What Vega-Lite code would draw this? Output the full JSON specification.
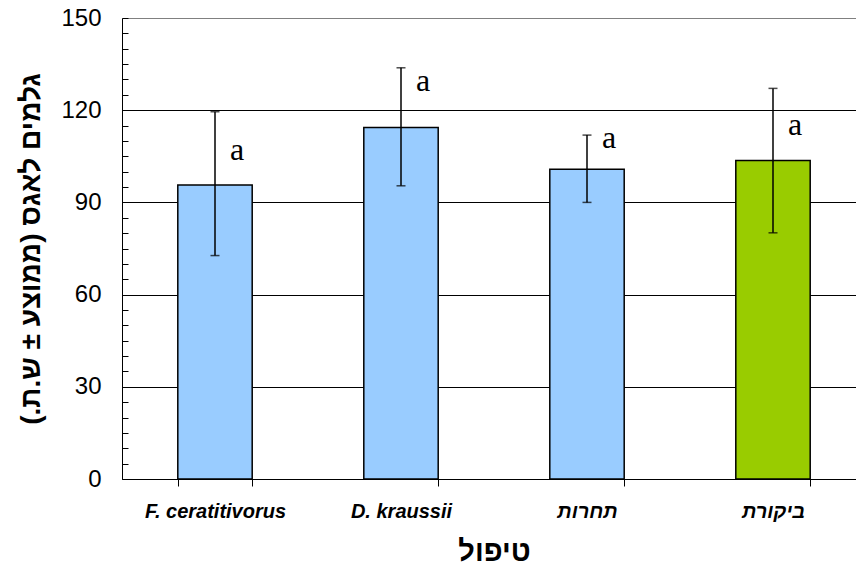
{
  "$schema": "https://vega.github.io/schema/vega-lite/v6.json",
  "autosize": "none",
  "width": 734,
  "height": 461,
  "padding": {"left": 122, "top": 18, "right": 0, "bottom": 89},
  "background": "white",
  "config": {
    "view": {"stroke": null},
    "font": "Liberation Sans",
    "axisY": {
      "titleFont": "Liberation Sans",
      "titleFontSize": 28,
      "titleFontWeight": "bold",
      "titleColor": "black",
      "titlePadding": 15,
      "labelOverlap": false,
      "labelFont": "Liberation Sans",
      "labelFontSize": 24,
      "labelColor": "black",
      "labelPadding": 27,
      "tickSize": -6,
      "tickColor": "black",
      "domainColor": "black",
      "grid": true,
      "gridWidth": 1
    }
  },
  "data": {
    "values": [
      {"treatment": "F. ceratitivorus", "mean": 95.7, "lo": 72.7, "hi": 119.5, "sig": "a", "sig_y": 103.8, "group": "treat"},
      {"treatment": "D. kraussii", "mean": 114.4, "lo": 95.4, "hi": 133.8, "sig": "a", "sig_y": 126.3, "group": "treat"},
      {"treatment": "תחרות", "mean": 100.8, "lo": 90.0, "hi": 111.9, "sig": "a", "sig_y": 107.6, "group": "treat"},
      {"treatment": "ביקורת", "mean": 103.6, "lo": 80.1, "hi": 127.1, "sig": "a", "sig_y": 111.9, "group": "control"}
    ]
  },
  "encoding": {
    "x": {
      "field": "treatment",
      "type": "nominal",
      "sort": null,
      "scale": {"paddingInner": 0.6, "paddingOuter": 0.3, "range": [0, 744]},
      "axis": {
        "title": "טיפול",
        "titleFont": "Liberation Sans",
        "titleFontSize": 29,
        "titleFontWeight": "bold",
        "titleColor": "black",
        "titlePadding": 16,
        "labelAngle": 0,
        "labelFont": "Liberation Sans",
        "labelFontSize": 20,
        "labelFontWeight": "bold",
        "labelFontStyle": "italic",
        "labelColor": "black",
        "labelPadding": 15,
        "tickBand": "extent",
        "tickSize": 7,
        "tickColor": "black",
        "tickWidth": 1,
        "domainColor": "black",
        "domainWidth": 1,
        "grid": false
      }
    }
  },
  "layer": [
    {
      "mark": {"type": "bar", "stroke": "black", "strokeWidth": 1.5},
      "encoding": {
        "y": {
          "field": "mean",
          "type": "quantitative",
          "scale": {"domain": [0, 150], "nice": false},
          "axis": {
            "title": "גלמים לאגס (ממוצע ± ש.ת.)",
            "values": [0,5,10,15,20,25,30,35,40,45,50,55,60,65,70,75,80,85,90,95,100,105,110,115,120,125,130,135,140,145,150],
            "labelExpr": "datum.value % 30 === 0 ? datum.label : ''",
            "gridColor": {"condition": {"test": "datum.value === 150", "value": "#808080"}, "value": "black"},
            "gridOpacity": {"condition": {"test": "datum.value % 30 === 0", "value": 1}, "value": 0}
          }
        },
        "color": {
          "field": "group",
          "type": "nominal",
          "scale": {"domain": ["treat", "control"], "range": ["#99CCFF", "#99CC00"]},
          "legend": null
        }
      }
    },
    {
      "mark": {"type": "rule", "color": "black", "strokeWidth": 1.5},
      "encoding": {
        "y": {
          "field": "lo",
          "type": "quantitative",
          "axis": {
            "title": "גלמים לאגס (ממוצע ± ש.ת.)",
            "values": [0,5,10,15,20,25,30,35,40,45,50,55,60,65,70,75,80,85,90,95,100,105,110,115,120,125,130,135,140,145,150],
            "labelExpr": "datum.value % 30 === 0 ? datum.label : ''",
            "gridColor": {"condition": {"test": "datum.value === 150", "value": "#808080"}, "value": "black"},
            "gridOpacity": {"condition": {"test": "datum.value % 30 === 0", "value": 1}, "value": 0}
          }
        },
        "y2": {"field": "hi"}
      }
    },
    {
      "mark": {"type": "tick", "color": "black", "size": 9, "thickness": 1.5},
      "encoding": {
        "y": {
          "field": "lo",
          "type": "quantitative",
          "axis": {
            "title": "גלמים לאגס (ממוצע ± ש.ת.)",
            "values": [0,5,10,15,20,25,30,35,40,45,50,55,60,65,70,75,80,85,90,95,100,105,110,115,120,125,130,135,140,145,150],
            "labelExpr": "datum.value % 30 === 0 ? datum.label : ''",
            "gridColor": {"condition": {"test": "datum.value === 150", "value": "#808080"}, "value": "black"},
            "gridOpacity": {"condition": {"test": "datum.value % 30 === 0", "value": 1}, "value": 0}
          }
        }
      }
    },
    {
      "mark": {"type": "tick", "color": "black", "size": 9, "thickness": 1.5},
      "encoding": {
        "y": {
          "field": "hi",
          "type": "quantitative",
          "axis": {
            "title": "גלמים לאגס (ממוצע ± ש.ת.)",
            "values": [0,5,10,15,20,25,30,35,40,45,50,55,60,65,70,75,80,85,90,95,100,105,110,115,120,125,130,135,140,145,150],
            "labelExpr": "datum.value % 30 === 0 ? datum.label : ''",
            "gridColor": {"condition": {"test": "datum.value === 150", "value": "#808080"}, "value": "black"},
            "gridOpacity": {"condition": {"test": "datum.value % 30 === 0", "value": 1}, "value": 0}
          }
        }
      }
    },
    {
      "mark": {"type": "text", "font": "Liberation Serif", "fontSize": 32, "color": "black", "dx": 22, "align": "center", "baseline": "alphabetic"},
      "encoding": {
        "y": {
          "field": "sig_y",
          "type": "quantitative",
          "axis": {
            "title": "גלמים לאגס (ממוצע ± ש.ת.)",
            "values": [0,5,10,15,20,25,30,35,40,45,50,55,60,65,70,75,80,85,90,95,100,105,110,115,120,125,130,135,140,145,150],
            "labelExpr": "datum.value % 30 === 0 ? datum.label : ''",
            "gridColor": {"condition": {"test": "datum.value === 150", "value": "#808080"}, "value": "black"},
            "gridOpacity": {"condition": {"test": "datum.value % 30 === 0", "value": 1}, "value": 0}
          }
        },
        "text": {"field": "sig"}
      }
    }
  ]
}
